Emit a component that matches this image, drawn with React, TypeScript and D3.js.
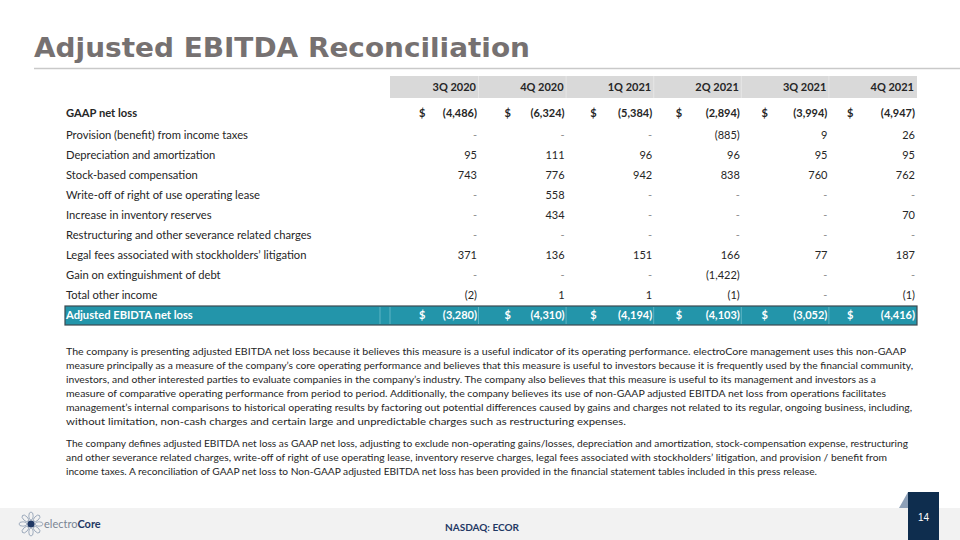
import React from "react";
import * as d3 from "d3";

const periods = ["3Q 2020", "4Q 2020", "1Q 2021", "2Q 2021", "3Q 2021", "4Q 2021"];
const rowLabels = [
  "GAAP net loss",
  "Provision (benefit) from income taxes",
  "Depreciation and amortization",
  "Stock-based compensation",
  "Write-off of right of use operating lease",
  "Increase in inventory reserves",
  "Restructuring and other severance related charges",
  "Legal fees associated with stockholders\u2019 litigation",
  "Gain on extinguishment of debt",
  "Total other income",
  "Adjusted EBIDTA net loss",
];
const gaapNetLoss = [-4486, -6324, -5384, -2894, -3994, -4947];
const provisionTaxes = [null, null, null, -885, 9, 26];
const depreciation = [95, 111, 96, 96, 95, 95];
const stockComp = [743, 776, 942, 838, 760, 762];
const leaseWriteOff = [null, 558, null, null, null, null];
const inventoryReserves = [null, 434, null, null, null, 70];
const restructuring = [null, null, null, null, null, null];
const legalFees = [371, 136, 151, 166, 77, 187];
const debtGain = [null, null, null, -1422, null, null];
const otherIncome = [-2, 1, 1, -1, null, -1];
const adjustedEbitda = [-3280, -4310, -4194, -4103, -3052, -4416];
const rowValues = [
  gaapNetLoss, provisionTaxes, depreciation, stockComp, leaseWriteOff,
  inventoryReserves, restructuring, legalFees, debtGain, otherIncome, adjustedEbitda,
];
const dollarRows = [0, 10];

const paragraph1 = [
  "The company is presenting adjusted EBITDA net loss because it believes this measure is a useful indicator of its operating performance. electroCore management uses this non-GAAP",
  "measure principally as a measure of the company\u2019s core operating performance and believes that this measure is useful to investors because it is frequently used by the financial community,",
  "investors, and other interested parties to evaluate companies in the company\u2019s industry. The company also believes that this measure is useful to its management and investors as a",
  "measure of comparative operating performance from period to period. Additionally, the company believes its use of non-GAAP adjusted EBITDA net loss from operations facilitates",
  "management\u2019s internal comparisons to historical operating results by factoring out potential differences caused by gains and charges not related to its regular, ongoing business, including,",
  "without limitation, non-cash charges and certain large and unpredictable charges such as restructuring expenses.",
];
const paragraph2 = [
  "The company defines adjusted EBITDA net loss as GAAP net loss, adjusting to exclude non-operating gains/losses, depreciation and amortization, stock-compensation expense, restructuring",
  "and other severance related charges,  write-off of right of use operating lease, inventory reserve charges, legal fees associated with stockholders\u2019 litigation, and provision / benefit from",
  "income taxes. A reconciliation of GAAP net loss to Non-GAAP adjusted EBITDA net loss has been provided in the financial statement tables included in this press release.",
];
const p1Widths = [840, 847, 810, 820, 846, 560];
const p2Widths = [842, 821, 751];

const fmt = d3.format(",");
const fmtVal = (v: number | null) =>
  v === null ? "-" : v < 0 ? `(${fmt(-v)})` : fmt(v);

const FONT = "Lato, 'Open Sans', sans-serif";
const TEXT = "#262626";
const TEAL = "#2395aa";

export default function App() {
  const xRight = d3.scalePoint<string>().domain(periods).range([477, 915]);
  const xDollar = d3.scalePoint<string>().domain(periods).range([419, 847]);
  const yRow = d3.scaleLinear().domain([1, 10]).range([135, 315]);
  const rowY = (i: number) => (i === 0 ? 113 : yRow(i));
  const labelX = 66;

  const petals = d3.range(8).map((i) => (i * 360) / 8);

  return (
    <svg
      width={960}
      height={540}
      viewBox="0 0 960 540"
      style={{ position: "absolute", left: 0, top: 0, background: "#fff" }}
    >
      <rect x={0} y={0} width={960} height={540} fill="#fff" />
      {/* Title */}
      <text
        x={34}
        y={57}
        fontFamily="'DejaVu Sans', 'Liberation Sans', sans-serif"
        fontWeight="bold"
        fontSize={27}
        fill="#767171"
        textLength={496}
        lengthAdjust="spacingAndGlyphs"
      >
        Adjusted EBITDA Reconciliation
      </text>
      <line x1={34} x2={960} y1={68.5} y2={68.5} stroke="#c9c9c9" strokeWidth={1.5} />

      {/* Header band */}
      <rect x={390} y={76} width={527} height={22} fill="#d9d9d9" />
      {periods.slice(0, 5).map((p) => (
        <line key={p} x1={xRight(p)! + 1.5} x2={xRight(p)! + 1.5} y1={76} y2={98} stroke="#e6e6e6" strokeWidth={1} />
      ))}
      {periods.map((p) => (
        <text
          key={p}
          x={xRight(p)! - 1}
          y={87}
          dy="0.35em"
          textAnchor="end"
          fontFamily={FONT}
          fontWeight="bold"
          fontSize={11}
          fill={TEXT}
        >
          {p}
        </text>
      ))}

      {/* Total band */}
      <rect x={65} y={306} width={852} height={19} fill={TEAL} stroke="#3b4a50" strokeWidth={1.2} />
      {[380, 390].concat(periods.slice(0, 5).map((p) => xRight(p)! + 1.5)).map((x, i) => (
        <line key={i} x1={x} x2={x} y1={307} y2={324} stroke="#6cbccb" strokeWidth={0.8} />
      ))}

      {/* Rows */}
      {rowLabels.map((label, i) => {
        const isTotal = i === 10;
        const bold = i === 0 || isTotal;
        const color = isTotal ? "#fff" : TEXT;
        const y = rowY(i);
        return (
          <g key={label}>
            <text
              x={labelX}
              y={y}
              dy="0.35em"
              fontFamily={FONT}
              fontWeight={bold ? "bold" : "normal"}
              fontSize={11.2}
              fill={color}
            >
              {label}
            </text>
            {periods.map((p, j) => {
              const v = rowValues[i][j];
              return (
                <g key={p}>
                  {dollarRows.includes(i) && (
                    <text
                      x={xDollar(p)}
                      y={y}
                      dy="0.35em"
                      fontFamily={FONT}
                      fontWeight="bold"
                      fontSize={11}
                      fill={color}
                    >
                      $
                    </text>
                  )}
                  <text
                    x={xRight(p)}
                    y={y}
                    dy="0.35em"
                    textAnchor="end"
                    fontFamily={FONT}
                    fontWeight={bold ? "bold" : "normal"}
                    fontSize={11}
                    fill={v === null && !isTotal ? "#8c8c8c" : color}
                  >
                    {fmtVal(v)}
                  </text>
                </g>
              );
            })}
          </g>
        );
      })}

      {/* Body text */}
      {paragraph1.map((line, i) => (
        <text
          key={"p1" + i}
          x={66}
          y={351 + i * 14}
          dy="0.35em"
          fontFamily={FONT}
          fontSize={10}
          fill={TEXT}
          textLength={p1Widths[i]}
          lengthAdjust="spacingAndGlyphs"
        >
          {line}
        </text>
      ))}
      {paragraph2.map((line, i) => (
        <text
          key={"p2" + i}
          x={66}
          y={443 + i * 14}
          dy="0.35em"
          fontFamily={FONT}
          fontSize={10}
          fill={TEXT}
          textLength={p2Widths[i]}
          lengthAdjust="spacingAndGlyphs"
        >
          {line}
        </text>
      ))}

      {/* Footer */}
      <rect x={0} y={508} width={960} height={32} fill="#f2f2f2" />
      <g transform="translate(31,524)">
        {petals.map((a) => (
          <ellipse
            key={a}
            cx={0}
            cy={-8}
            rx={2.2}
            ry={4}
            fill="none"
            stroke="#8a9bb0"
            strokeWidth={0.8}
            transform={`rotate(${a})`}
          />
        ))}
        <circle r={3.6} fill="#1f3864" />
      </g>
      <text x={44} y={524} dy="0.35em" fontFamily={FONT} fontSize={11} fill="#7a8594">
        electro
        <tspan fontWeight="bold" fill="#1f3864">Core</tspan>
      </text>
      <text
        x={482}
        y={527}
        dy="0.35em"
        textAnchor="middle"
        fontFamily={FONT}
        fontWeight="bold"
        fontSize={10}
        fill="#1f3864"
      >
        NASDAQ: ECOR
      </text>
      <path d="M899,508 L908,492 L908,508 Z" fill="#8da0b8" />
      <rect x={908} y={492} width={31} height={48} fill="#0e2d4e" />
      <text
        x={923.5}
        y={517}
        dy="0.35em"
        textAnchor="middle"
        fontFamily="'Liberation Sans', Arial, sans-serif"
        fontSize={10}
        fill="#fff"
      >
        14
      </text>
    </svg>
  );
}
